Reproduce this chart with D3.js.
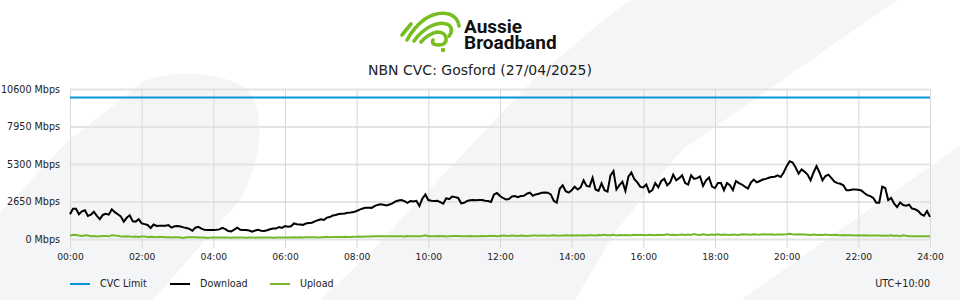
<!DOCTYPE html>
<html>
<head>
<meta charset="utf-8">
<script src="https://cdn.jsdelivr.net/npm/d3@7"></script>
<style>
  body { margin: 0; background: #fff; }
  svg { display: block; font-family: "DejaVu Sans", sans-serif; }
</style>
</head>
<body>
<svg id="chart" width="960" height="300"></svg>
<script>
'use strict';

// Chart data (5 minute samples, 00:00 -> 24:00)
var title = "NBN CVC: Gosford (27/04/2025)";
var timezone = "UTC+10:00";
var cvcLimit = 10000;
var sampleMinutes = 5;
var hourTicks = [0, 2, 4, 6, 8, 10, 12, 14, 16, 18, 20, 22, 24];
var hourLabels = ["00:00", "02:00", "04:00", "06:00", "08:00", "10:00", "12:00",
  "14:00", "16:00", "18:00", "20:00", "22:00", "24:00"];
var yTicks = [0, 2650, 5300, 7950, 10600];
var seriesNames = ["CVC Limit", "Download", "Upload"];
var seriesColors = ["#0a96d6", "#000000", "#76b82a"];

var download = [
  1745, 2140, 2140, 1745, 1950, 2030, 1625, 1720, 1930, 1640, 1400, 1700,
  1780, 1720, 2100, 1900, 1750, 1600, 1225, 1500, 1675, 1250, 1230, 1400,
  1100, 1050, 990, 780, 1020, 920, 940, 930, 930, 980, 800, 900,
  920, 880, 820, 780, 720, 580, 800, 860, 730, 660, 640, 640,
  640, 650, 680, 790, 700, 560, 540, 660, 800, 660, 640, 640,
  600, 520, 600, 650, 590, 560, 620, 690, 740, 740, 850, 780,
  910, 860, 900, 1100, 1050, 1030, 1000, 1090, 1130, 1150, 1250, 1330,
  1390, 1340, 1510, 1550, 1660, 1700, 1760, 1790, 1800, 1860, 1870, 1900,
  1980, 2080, 2150, 2200, 2210, 2200, 2330, 2410, 2450, 2420, 2370, 2440,
  2520, 2650, 2720, 2760, 2680, 2560, 2690, 2650, 2700, 2330, 2850, 3150,
  2750, 2700, 2680, 2700, 2600, 2500, 2880, 2820, 3000, 2960, 2900, 2520,
  2560, 2690, 2740, 2760, 2740, 2750, 2760, 2700, 2690, 2620, 3150, 3250,
  3040, 2900, 2800, 2830, 3000, 3040, 2950, 3040, 3050, 3200, 3280, 3060,
  3150, 3200, 3270, 3280, 3270, 3150, 2700, 2570, 3550, 3790, 3380, 3280,
  3450, 3690, 3500, 3650, 4150, 3750, 3700, 4330, 3500, 3400, 3930, 3450,
  3350, 4500, 4800, 3500, 3800, 4050, 3400, 4400, 4700, 4220, 4000, 3680,
  3650, 3850, 3300, 3450, 3950, 3650, 4100, 4250, 3800, 4000, 4550, 4150,
  4300, 4500, 3950, 3850, 4500, 4250, 4300, 4420, 3750, 4150, 4350, 3700,
  3600, 3950, 3950, 3450, 3950, 3800, 3450, 4100, 3950, 3850, 3700, 3560,
  3980, 4200, 4000, 4100, 4200, 4250, 4330, 4380, 4400, 4500, 4380, 4700,
  5150, 5500, 5400, 5050, 4620, 4920, 4750, 4550, 4150, 4700, 5150, 4700,
  4150, 4450, 4550, 4300, 4050, 3950, 3900, 3800, 3450, 3450, 3500, 3500,
  3480, 3430, 3250, 3100, 3030, 2900, 2570, 2570, 3700, 3600, 2750, 2900,
  2500, 2250, 2580, 2400, 2350, 2420, 2150, 2100, 1990, 1750, 1640, 1980, 1560
];

var upload = [
  230, 300, 290, 250, 220, 260, 240, 200, 210, 180, 200, 210,
  220, 190, 270, 240, 230, 180, 170, 200, 170, 160, 170, 150,
  180, 170, 140, 160, 150, 130, 150, 140, 120, 130, 110, 130,
  120, 110, 80, 120, 130, 120, 120, 110, 100, 100, 70, 110,
  100, 110, 110, 100, 110, 100, 90, 100, 110, 100, 100, 90,
  100, 100, 90, 100, 110, 100, 110, 100, 90, 110, 100, 110,
  110, 110, 100, 120, 110, 120, 110, 120, 130, 120, 120, 110,
  130, 120, 150, 120, 140, 150, 140, 150, 160, 150, 150, 160,
  160, 170, 160, 170, 180, 170, 200, 190, 190, 200, 190, 200,
  200, 190, 200, 190, 180, 210, 200, 200, 190, 200, 210, 260,
  200, 190, 190, 210, 200, 210, 180, 200, 210, 220, 210, 200,
  200, 190, 210, 200, 190, 200, 210, 200, 220, 210, 230, 200,
  220, 240, 230, 220, 240, 230, 220, 240, 230, 220, 230, 240,
  240, 230, 240, 250, 230, 240, 260, 240, 230, 250, 260, 240,
  260, 250, 260, 240, 270, 250, 260, 270, 250, 280, 260, 300,
  260, 270, 300, 250, 290, 260, 280, 270, 260, 300, 280, 290,
  290, 270, 300, 280, 260, 300, 290, 280, 330, 280, 300, 290,
  300, 320, 280, 310, 290, 350, 300, 290, 330, 300, 280, 320,
  300, 330, 290, 310, 300, 290, 320, 300, 290, 330, 310, 320,
  300, 330, 310, 300, 340, 320, 310, 330, 300, 320, 310, 320,
  330, 370, 340, 320, 330, 310, 320, 300, 280, 310, 290, 300,
  280, 310, 290, 280, 300, 280, 270, 280, 270, 260, 270, 250,
  260, 250, 260, 240, 250, 240, 250, 240, 230, 240, 230, 270,
  220, 240, 200, 270, 230, 190, 200, 190, 200, 190, 200, 190, 190
];

// Set the dimensions and margins of the graph
var margin = {top: 89, right: 30, bottom: 61, left: 70},
  width = 960 - margin.left - margin.right,
  height = 300 - margin.top - margin.bottom;

var svg = d3.select("#chart");

// Watermark shapes in the background
var bg = svg.append("g").attr("fill", "#f4f5f7");
bg.append("path")
  .attr("d", "M0,213 L67,142 L143,82 C165,70 220,70 245,88 C268,110 262,160 240,200 L153,300 L0,300 Z");
bg.append("path")
  .attr("d", "M320,300 L363,260 L533,80 L600,23 L630,0 L897,0 L768,90 L682,150 L615,232 L575,300 Z");
bg.append("path")
  .attr("d", "M741,300 L823,242 L935,163 L960,145 L960,300 Z");

// Logo
var logo = svg.append("g")
  .attr("fill", "none")
  .attr("stroke", "#78be20")
  .attr("stroke-width", 3.6)
  .attr("stroke-linecap", "round")
  .attr("stroke-linejoin", "round");
logo.append("path").attr("d", "M402,35 L411,24");
logo.append("path").attr("d", "M407,40 Q414,27 425,19 Q437,11 449,14 Q458,17 459,26");
logo.append("path").attr("d", "M414,41 Q421,31 431,26 Q441,21 449,25 Q454,30 449,36");
logo.append("path").attr("d", "M421,42 Q428,34 437,32 Q445,32 446,38 Q447,45 438,45 Q431,45 433,40");
svg.append("circle")
  .attr("cx", 443).attr("cy", 50).attr("r", 2.3)
  .attr("fill", "#78be20");

// Two-line wordmark as one text element
var brand = svg.append("text")
  .style("font-family", "Roboto, sans-serif")
  .style("font-weight", "bold")
  .style("font-size", "19px")
  .attr("fill", "#111");
brand.append("tspan").attr("x", 464).attr("y", 33).text("Aussie");
brand.append("tspan").attr("x", 464).attr("y", 48.5).text("Broadband");

// Title
svg.append("text")
  .attr("x", 480).attr("y", 75)
  .style("text-anchor", "middle")
  .style("font-size", "14px")
  .attr("fill", "#222")
  .text(title);

var g = svg.append("g")
  .attr("transform", "translate(" + margin.left + "," + margin.top + ")");

// Set the ranges
var x = d3.scaleLinear().domain([0, 24]).range([0, width]);
var y = d3.scaleLinear().domain([0, 10600]).range([height, 0]);

// Horizontal grid + y labels
var yAxis = g.append("g")
  .call(d3.axisLeft(y)
    .tickValues(yTicks)
    .tickSize(-width)
    .tickPadding(10)
    .tickFormat(function (d) { return d + " Mbps"; }));
yAxis.select(".domain").remove();
yAxis.selectAll("line").attr("stroke", "#e4e4e4").attr("stroke-width", 2);
yAxis.selectAll("text")
  .style("font-size", "9.6px")
  .style("font-family", "DejaVu Sans, sans-serif")
  .attr("fill", "#222");

// Vertical grid
var xGrid = g.append("g")
  .attr("transform", "translate(0," + height + ")")
  .call(d3.axisBottom(x).tickValues(hourTicks).tickSize(-height).tickFormat(""));
xGrid.select(".domain").remove();
xGrid.selectAll("line").attr("stroke", "#d9d9d9");

// X axis ticks + labels
var xAxis = g.append("g")
  .attr("transform", "translate(0," + height + ")")
  .call(d3.axisBottom(x)
    .tickValues(hourTicks)
    .tickSize(9)
    .tickPadding(5)
    .tickFormat(function (d, i) { return hourLabels[i]; }));
xAxis.select(".domain").remove();
xAxis.selectAll("line").attr("stroke", "#d9d9d9");
xAxis.selectAll("text")
  .style("font-size", "9.2px")
  .style("font-family", "DejaVu Sans, sans-serif")
  .attr("fill", "#222");

// Lines
function sampleLine() {
  return d3.line()
    .x(function (d, i) { return x(i * sampleMinutes / 60); })
    .y(function (d) { return y(d); });
}

g.append("path")
  .datum([cvcLimit, cvcLimit])
  .attr("fill", "none")
  .attr("stroke", seriesColors[0])
  .attr("stroke-width", 2)
  .attr("d", d3.line()
    .x(function (d, i) { return x(i * 24); })
    .y(function (d) { return y(d); }));

g.append("path")
  .datum(upload)
  .attr("fill", "none")
  .attr("stroke", seriesColors[2])
  .attr("stroke-width", 2)
  .attr("d", sampleLine());

g.append("path")
  .datum(download)
  .attr("fill", "none")
  .attr("stroke", seriesColors[1])
  .attr("stroke-width", 2)
  .attr("d", sampleLine());

// Legend
var legend = svg.append("g")
  .attr("transform", "translate(" + margin.left + ",284)");
var item = legend.selectAll("g")
  .data(seriesNames)
  .enter().append("g")
  .attr("transform", function (d, i) { return "translate(" + (i * 100) + ",0)"; });
item.append("line")
  .attr("x1", 0).attr("x2", 20)
  .attr("stroke-width", 2)
  .attr("stroke", function (d, i) { return seriesColors[i]; });
item.append("text")
  .attr("x", 30).attr("dy", "0.35em")
  .style("font-size", "9.6px")
  .attr("fill", "#222")
  .text(function (d) { return d; });

svg.append("text")
  .attr("x", margin.left + width).attr("y", 284).attr("dy", "0.35em")
  .style("text-anchor", "end")
  .style("font-size", "9.6px")
  .attr("fill", "#222")
  .text(timezone);
</script>
</body>
</html>
